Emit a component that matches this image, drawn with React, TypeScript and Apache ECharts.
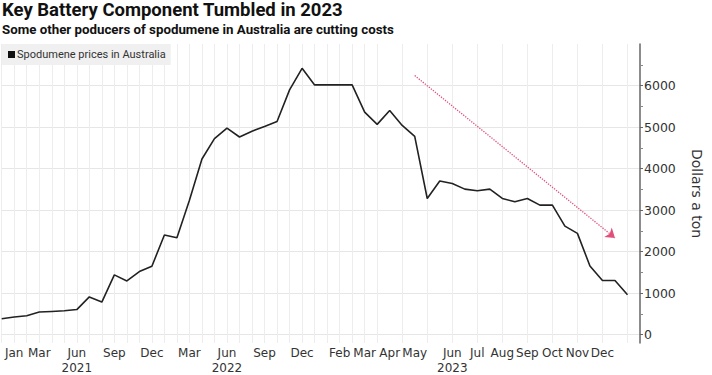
import React, { useEffect, useRef } from "react";
import * as echarts from "echarts";

const TITLE = "Key Battery Component Tumbled in 2023";
const SUBTITLE = "Some other poducers of spodumene in Australia are cutting costs";
const SERIES_NAME = "Spodumene prices in Australia";
const Y_NAME = "Dollars a ton";

const dates: string[] = [
  "2021-01", "2021-02", "2021-03", "2021-04", "2021-05", "2021-06", "2021-07", "2021-08",
  "2021-09", "2021-10", "2021-11", "2021-12", "2022-01", "2022-02", "2022-03", "2022-04",
  "2022-05", "2022-06", "2022-07", "2022-08", "2022-09", "2022-10", "2022-11", "2022-12",
  "2023-01", "2023-01-20", "2023-02-03", "2023-02-17", "2023-03-03", "2023-03-17",
  "2023-03-31", "2023-04-14", "2023-04-28", "2023-05-12", "2023-05-26", "2023-06-09",
  "2023-06-23", "2023-07-07", "2023-07-21", "2023-08-04", "2023-08-18", "2023-09-01",
  "2023-09-15", "2023-09-29", "2023-10-13", "2023-10-27", "2023-11-10", "2023-11-24",
  "2023-12-08", "2023-12-22", "2024-01-05", "2024-01-19",
];

const prices: (number | null)[] = [
  385, 425, 455, 545, 560, 575, 605, 910, 785, 1440, 1295, 1520, 1650, 2400, 2335,
  3240, 4230, 4720, 4975, 4760, 4900, 5015, 5135, 5895, 6415, 6015, 6015, 6015, 6015,
  5360, 5065, 5400, 5040, 4775, 3280, 3700, 3640, 3505, 3465, 3505, 3280, 3200, 3280,
  3120, 3120, 2615, 2440, 1655, 1305, 1305, 960, null,
];

const tickIndices: number[] = [1, 3, 6, 9, 12, 15, 18, 21, 24, 27, 29, 31, 33, 36, 38, 40, 42, 44, 46, 48];
const tickLabels: string[] = [
  "Jan", "Mar", "Jun\n2021", "Sep", "Dec", "Mar", "Jun\n2022", "Sep", "Dec", "Feb",
  "Mar", "Apr", "May", "Jun\n2023", "Jul", "Aug", "Sep", "Oct", "Nov", "Dec",
];

const yTicks: number[] = [0, 1000, 2000, 3000, 4000, 5000, 6000];
const yMin = -200;
const yMax = 7000;

// trend arrow annotation (category index, value)
const arrowStart: [number, number] = [33, 6240];
const arrowEnd: [number, number] = [49, 2330];

const FONT = "'DejaVu Sans', sans-serif";
const TITLE_FONT = "Roboto, 'DejaVu Sans', sans-serif";

export default function App() {
  const ref = useRef<HTMLDivElement>(null);
  useEffect(() => {
    if (!ref.current) return;
    const chart = echarts.init(ref.current, undefined, { renderer: "svg" });
    const labelMap: Record<number, string> = {};
    tickIndices.forEach((i, k) => (labelMap[i] = tickLabels[k]));
    chart.setOption({
      animation: false,
      backgroundColor: "#ffffff",
      title: [
        {
          text: TITLE,
          left: 2,
          top: 0,
          padding: 0,
          textAlign: "left",
          textVerticalAlign: "top",
          textStyle: { fontFamily: TITLE_FONT, fontWeight: "bold", fontSize: 18.5, color: "#111" },
        },
        {
          text: SUBTITLE,
          left: 2,
          top: 23,
          padding: 0,
          textAlign: "left",
          textVerticalAlign: "top",
          textStyle: { fontFamily: TITLE_FONT, fontWeight: "bold", fontSize: 13.3, color: "#111" },
        },
      ],
      legend: {
        left: 2,
        top: 44,
        padding: [5, 5, 5, 6],
        backgroundColor: "#f0f0f0",
        icon: "rect",
        itemWidth: 7,
        itemHeight: 7,
        textStyle: { fontFamily: TITLE_FONT, fontSize: 11, color: "#333", padding: [0, 0, 0, -3] },
        data: [SERIES_NAME],
      },
      grid: { left: 1.7, right: 71.3, top: 44, bottom: 31.7, containLabel: false },
      xAxis: {
        type: "category",
        data: dates,
        boundaryGap: false,
        axisLine: { show: false },
        axisTick: { show: false },
        axisLabel: {
          interval: (index: number) => labelMap[index] !== undefined,
          formatter: (_v: string, index: number) => labelMap[index] ?? "",
          fontFamily: FONT,
          fontSize: 12,
          color: "#333",
          lineHeight: 15,
          margin: 2,
        },
        splitLine: {
          show: true,
          interval: (index: number) => index <= 30 || index % 2 === 0,
          lineStyle: { color: "#ededed", width: 1 },
        },
      },
      yAxis: {
        type: "value",
        position: "right",
        min: yMin,
        max: yMax,
        splitNumber: 7,
        axisLine: { show: true, lineStyle: { color: "#666", width: 1.5 } },
        axisTick: { show: true, length: 3, customValues: yTicks, lineStyle: { color: "#666" } },
        minorTick: { show: true, splitNumber: 2, length: 3, lineStyle: { color: "#888" } },
        axisLabel: {
          fontFamily: FONT,
          fontSize: 12.5,
          color: "#333",
          margin: 4,
          customValues: yTicks,
          formatter: (v: number) => String(v),
        },
        splitLine: { show: true, lineStyle: { color: "#e6e6e6", width: 1 } },
        name: Y_NAME,
        nameLocation: "middle",
        nameRotate: -90,
        nameGap: 50,
        nameTextStyle: { fontFamily: FONT, fontSize: 14, color: "#333" },
      },
      series: [
        {
          name: SERIES_NAME,
          type: "line",
          data: prices,
          symbol: "none",
          lineStyle: { color: "#222", width: 1.6 },
          itemStyle: { color: "#111" },
          markLine: {
            silent: true,
            symbol: ["none", "arrow"],
            symbolSize: 9,
            label: { show: false },
            lineStyle: { color: "#e0507a", type: "dotted", width: 1.3 },
            data: [
              [
                { coord: [dates[arrowStart[0]], arrowStart[1]] },
                { coord: [dates[arrowEnd[0]], arrowEnd[1]] },
              ],
            ],
          },
        },
      ],
    });
    return () => chart.dispose();
  }, []);
  return (
    <div
      ref={ref}
      style={{ position: "fixed", left: 0, top: 0, width: 712, height: 375 }}
    />
  );
}
